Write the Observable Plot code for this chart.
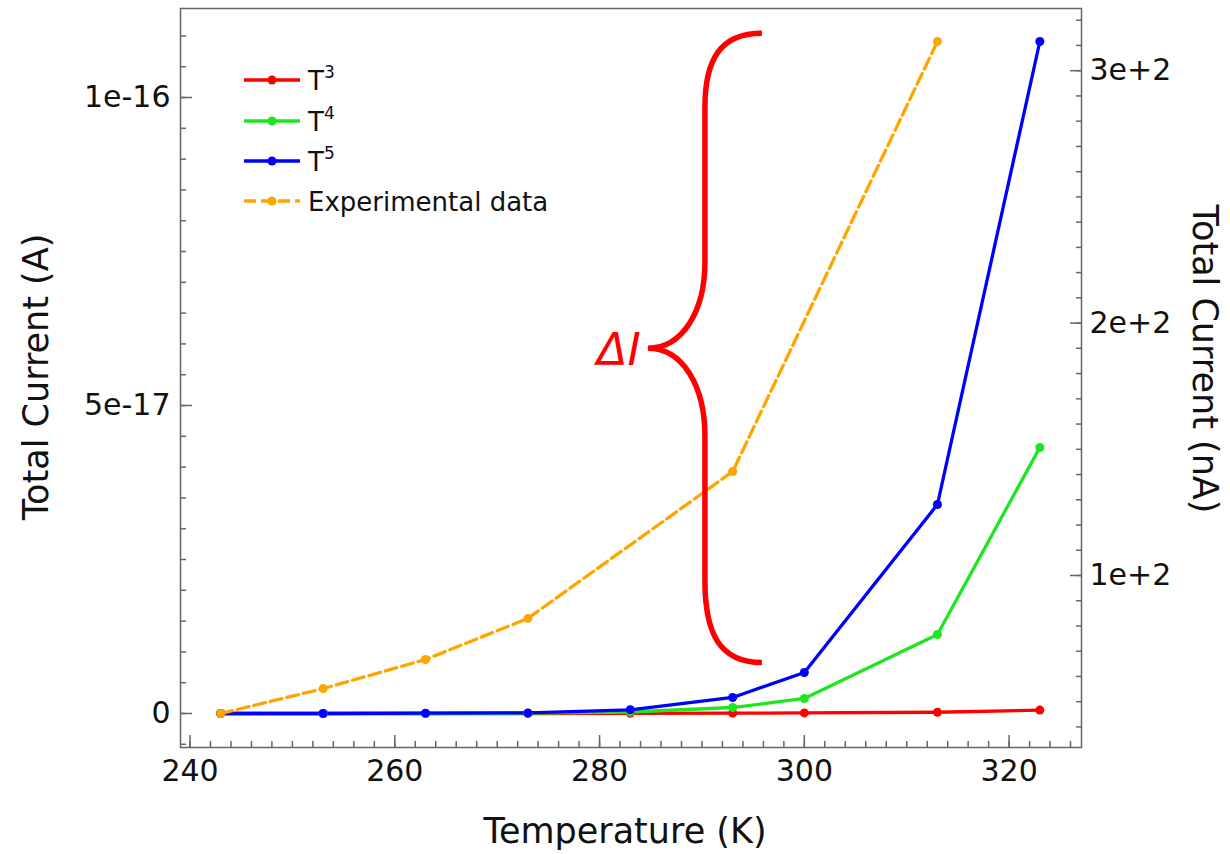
<!DOCTYPE html>
<html><head><meta charset="utf-8">
<script src="https://cdn.jsdelivr.net/npm/d3@7"></script>
<script src="https://cdn.jsdelivr.net/npm/@observablehq/plot@0.6"></script>
<style>
body{margin:0;background:#fff;font-family:"DejaVu Sans",sans-serif;}
#wrap{position:relative;width:1230px;height:854px;}
</style></head><body><div id="wrap"></div>
<script>
// ---- data ----
const temperatures = [243, 253, 263, 273, 283, 293, 300, 313, 323];           // K
const currentT3 = [0, 0, 0, 0, 0.2e-19, 0.5e-19, 1e-19, 2e-19, 5.5e-19];    // A
const currentT4 = [0, 0, 0, 0.5e-19, 2.4e-19, 9.7e-19, 2.44e-18, 1.282e-17, 4.318e-17];
const currentT5 = [0, 0, 0.5e-19, 1e-19, 6e-19, 2.6e-18, 6.66e-18, 3.393e-17, 1.0909e-16];
const expTemperatures = [243, 253, 263, 273, 293, 313];                     // K
const expCurrentNA = [45.3, 55.2, 66.7, 83.0, 141.2, 311.6];               // nA (right axis)
const seriesNames = ["T3", "T4", "T5", "Experimental data"];
const seriesColors = ["#ff0000", "#1ee61e", "#0000ff", "#ffa500"];
const xTicks = [240, 260, 280, 300, 320];
const leftTicks = [0, 5e-17, 1e-16];
const leftTickLabels = ["0", "5e-17", "1e-16"];
const rightTicksNA = [100, 200, 300];
const rightTickLabels = ["1e+2", "2e+2", "3e+2"];
// right-axis calibration (nA shown on the same vertical scale as A)
const nAOffset = 45.32, nAToAmp = 4.0974e-19;
const toA = nA => (nA - nAOffset) * nAToAmp;
// brace annotation (data units)
const brace = {spineT: 290.34, endT: 295.9, tipT: 284.77, top: 1.1034e-16, mid: 5.92e-17, bottom: 8.2e-18, label: "ΔI"};

// ---- tables ----
const lineData = [];
[currentT3, currentT4, currentT5].forEach((arr, s) =>
  arr.forEach((v, i) => lineData.push({series: seriesNames[s], T: temperatures[i], I: v})));
const expData = expTemperatures.map((t, i) => ({T: t, I: toA(expCurrentNA[i])}));

const leftMinor = d3.range(-1, 23).map(i => i * 5e-18);
const rightMinor = d3.range(4, 33).map(i => toA(i * 10));
const rightMajor = rightTicksNA.map(toA);
const xMinor = d3.range(240, 327, 2);
const leftFmt = new Map(leftTicks.map((v, i) => [v, leftTickLabels[i]]));
const rightFmt = new Map(rightMajor.map((v, i) => [v, rightTickLabels[i]]));

const axisColor = "#666";
const tickFont = 30;
const lw = 3.3, dotR = 4.5;

const plot = Plot.plot({
  width: 1230, height: 854,
  marginLeft: 180, marginRight: 149, marginTop: 8, marginBottom: 107,
  style: {fontFamily: "DejaVu Sans", fontSize: "30px", color: "#111", background: "#fff"},
  x: {domain: [239.07, 327.07]},
  y: {domain: [-5.52e-18, 1.1445e-16]},
  color: {domain: seriesNames, range: seriesColors},
  marks: [
    // minor / major ticks (inward)
    Plot.axisY({anchor: "left", ticks: leftMinor, tickSize: 6, dx: 6, tickFormat: () => "", stroke: axisColor, strokeWidth: 1.5, label: null}),
    Plot.axisY({anchor: "left", ticks: leftTicks, tickSize: 12, dx: 12, tickFormat: () => "", stroke: axisColor, strokeWidth: 1.5, label: null}),
    Plot.axisY({anchor: "left", ticks: leftTicks, tickSize: 0, tickPadding: 10, tickFormat: d => leftFmt.get(d), fontSize: tickFont, label: null}),
    Plot.axisY({anchor: "right", ticks: rightMinor, tickSize: 6, dx: -6, tickFormat: () => "", stroke: axisColor, strokeWidth: 1.5, label: null}),
    Plot.axisY({anchor: "right", ticks: rightMajor, tickSize: 12, dx: -12, tickFormat: () => "", stroke: axisColor, strokeWidth: 1.5, label: null}),
    Plot.axisY({anchor: "right", ticks: rightMajor, tickSize: 0, tickPadding: 8, tickFormat: d => rightFmt.get(d), fontSize: tickFont, label: null}),
    Plot.axisX({anchor: "bottom", ticks: xMinor, tickSize: 6, dy: -6, tickFormat: () => "", stroke: axisColor, strokeWidth: 1.5, label: null}),
    Plot.axisX({anchor: "bottom", ticks: xTicks, tickSize: 12, dy: -12, tickFormat: () => "", stroke: axisColor, strokeWidth: 1.5, label: null}),
    Plot.axisX({anchor: "bottom", ticks: xTicks, tickSize: 0, tickPadding: 12, fontSize: tickFont, label: null}),
    Plot.frame({stroke: axisColor, strokeWidth: 1.5}),
    // data
    Plot.line(lineData, {x: "T", y: "I", z: "series", stroke: "series", strokeWidth: lw}),
    Plot.dot(lineData, {x: "T", y: "I", fill: "series", r: dotR}),
    Plot.line(expData, {x: "T", y: "I", stroke: seriesColors[3], strokeWidth: lw, strokeDasharray: "12,5"}),
    Plot.dot(expData, {x: "T", y: "I", fill: seriesColors[3], r: dotR})
  ]
});
document.getElementById("wrap").appendChild(plot);

const svg = d3.select(plot);
const X = v => plot.scale("x").apply(v), Y = v => plot.scale("y").apply(v);

// brace annotation
{
  const xs = X(brace.spineT), xe = X(brace.endT), xt = X(brace.tipT);
  const yt = Y(brace.top), ym = Y(brace.mid), yb = Y(brace.bottom);
  const p = d3.path();
  p.moveTo(xe, yt);
  p.bezierCurveTo(xs + 14, yt, xs, yt + 28, xs, yt + 74);
  p.lineTo(xs, ym - 86);
  p.bezierCurveTo(xs, ym - 38, xs - 22, ym, xt, ym);
  p.bezierCurveTo(xs - 22, ym, xs, ym + 38, xs, ym + 88);
  p.lineTo(xs, yb - 82);
  p.bezierCurveTo(xs, yb - 30, xs + 14, yb, xe, yb);
  svg.append("path").attr("d", p.toString()).attr("fill", "none")
    .attr("stroke", "#ff0000").attr("stroke-width", 5.5);
  svg.append("text").attr("x", xt - 7).attr("y", ym).attr("dy", "0.36em")
    .attr("text-anchor", "end").attr("font-style", "italic").attr("font-size", 45)
    .attr("fill", "#ff0000").attr("font-family", "DejaVu Sans").text(brace.label);
}

// legend
{
  const g = svg.append("g").attr("font-family", "DejaVu Sans").attr("font-size", 26)
    .attr("fill", "#111").attr("text-anchor", "start");
  const rows = [80, 121, 161, 201];
  const sup = ["3", "4", "5"];
  rows.forEach((ry, i) => {
    const line = g.append("line").attr("x1", 244).attr("x2", 300).attr("y1", ry).attr("y2", ry)
      .attr("stroke", seriesColors[i]).attr("stroke-width", lw);
    if (i === 3) line.attr("stroke-dasharray", "12,5");
    g.append("circle").attr("cx", 272).attr("cy", ry).attr("r", dotR).attr("fill", seriesColors[i]);
    const t = g.append("text").attr("x", 308).attr("y", ry + 10).attr("text-anchor", "start");
    if (i < 3) {
      t.append("tspan").text("T");
      t.append("tspan").attr("dy", -12).attr("font-size", 17).text(sup[i]);
    } else {
      t.text(seriesNames[3]);
    }
  });
}

// axis titles
const titleFont = 35;
svg.append("text").attr("x", 625).attr("y", 843).attr("text-anchor", "middle")
  .attr("font-size", titleFont).attr("font-family", "DejaVu Sans").attr("fill", "#111").text("Temperature (K)");
svg.append("text").attr("transform", "translate(48,377) rotate(-90)").attr("text-anchor", "middle")
  .attr("font-size", titleFont).attr("font-family", "DejaVu Sans").attr("fill", "#111").text("Total Current (A)");
svg.append("text").attr("transform", "translate(1193,359) rotate(90)").attr("text-anchor", "middle")
  .attr("font-size", titleFont).attr("font-family", "DejaVu Sans").attr("fill", "#111").text("Total Current (nA)");
</script></body></html>
